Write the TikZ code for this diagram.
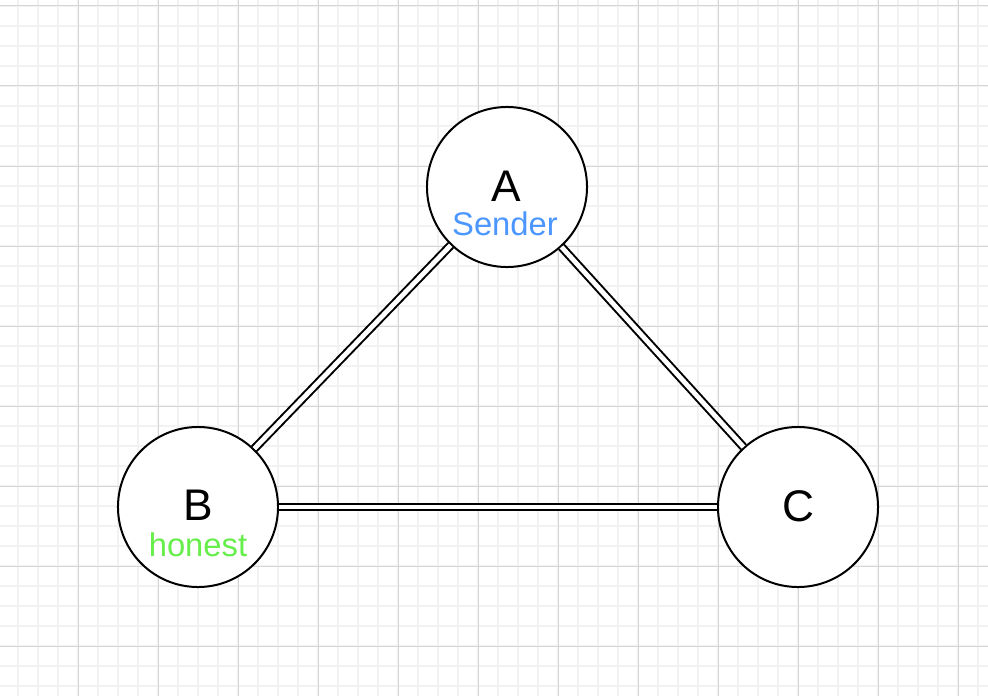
\documentclass[tikz,border=0pt]{standalone}
\usepackage{fontspec}
\setmainfont{Liberation Sans}
\definecolor{senderblue}{HTML}{4C97FF}
\definecolor{honestgreen}{HTML}{66EE4A}
\definecolor{minorgrid}{HTML}{F2F2F2}
\definecolor{majorgrid}{HTML}{D6D6D6}
\tikzset{
  party/.style={circle, draw, line width=0.05cm, fill=white, minimum size=4cm, inner sep=0pt},
  chan/.style={double, double distance=0.12cm, line width=0.05cm},
  partyname/.style={font=\fontsize{31.5}{31.5}\selectfont},
  partyrole/.style={font=\fontsize{23.3}{23.3}\selectfont},
}
\begin{document}
\begin{tikzpicture}[x=0.025cm, y=-0.025cm]
    \useasboundingbox (0,0) rectangle (988,696);
    \fill[white] (0,0) rectangle (988,696);

    % grid
    \foreach \i in {0,...,49}
        \draw[minorgrid, line width=0.04cm] ({-2+20*\i},0) -- ({-2+20*\i},696);
    \foreach \j in {0,...,34}
        \draw[minorgrid, line width=0.04cm] (0,{6+20*\j}) -- (988,{6+20*\j});
    \foreach \i in {0,...,11}
        \draw[majorgrid, line width=0.025cm] ({78+80*\i},0) -- ({78+80*\i},696);
    \foreach \j in {0,...,8}
        \draw[majorgrid, line width=0.025cm] (0,{6+80*\j}) -- (988,{6+80*\j});

    % parties
    \node[party] (A) at (507,187) {};
    \node[party] (B) at (198,507) {};
    \node[party] (C) at (798,507) {};

    \node[partyname] (Aname) at (506,186) {A};
    \node[partyrole, text=senderblue] (Arole) at (505,224) {Sender};
    \node[partyname] (Bname) at (198,505) {B};
    \node[partyrole, text=honestgreen] (Brole) at (198,545) {honest};
    \node[partyname] (Cname) at (798,506) {C};

    % channels
    \draw[chan] (A) -- (B);
    \draw[chan] (A) -- (C);
    \draw[chan] (B) -- (C);
\end{tikzpicture}
\end{document}
